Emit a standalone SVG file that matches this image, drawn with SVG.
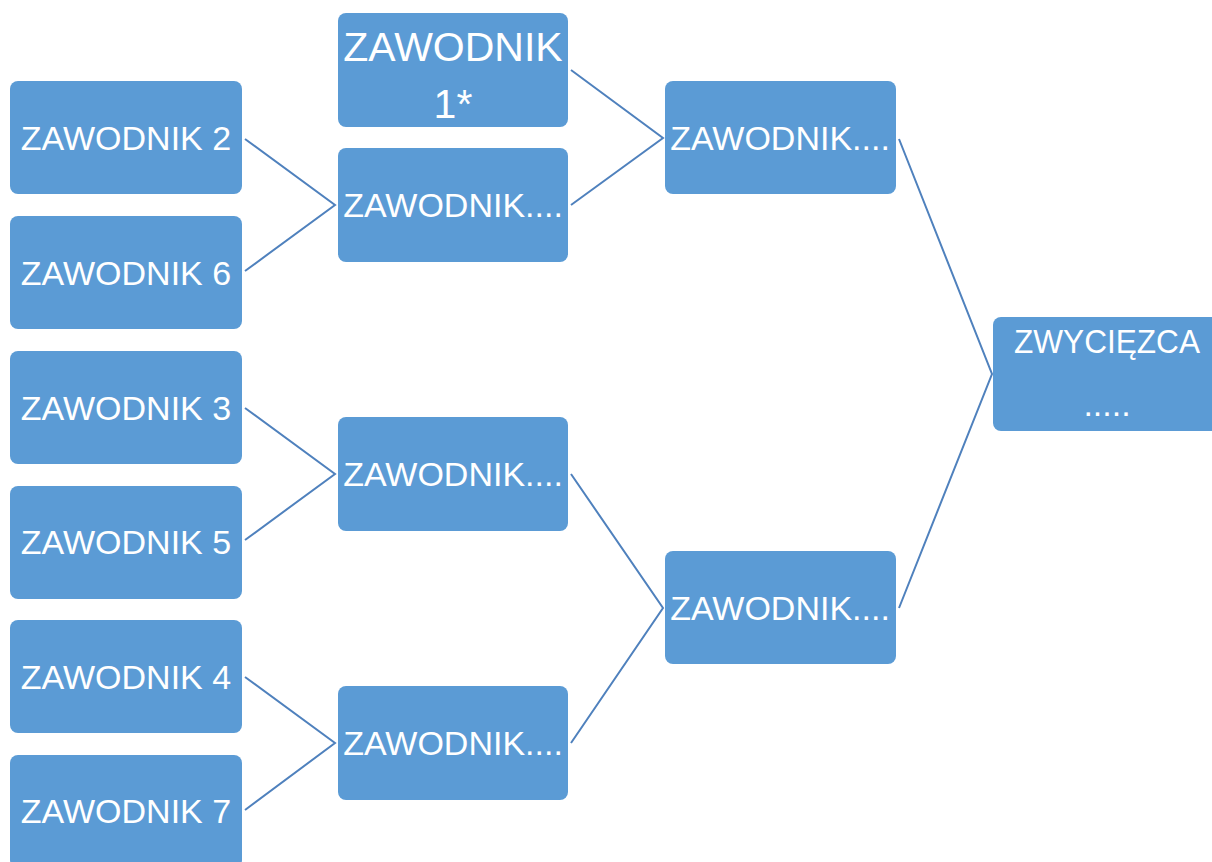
<svg xmlns="http://www.w3.org/2000/svg" width="1212" height="862" viewBox="0 0 1212 862">
<style>
.box{fill:#5b9bd5;}
.t{fill:#ffffff;font-family:"Liberation Sans",Arial,sans-serif;font-size:34px;text-anchor:middle;}
.big{font-size:41px;}
.c{stroke:#4f81bd;stroke-width:2;fill:none;}
</style>
<rect width="1212" height="862" fill="#ffffff"/>
<g id="connectors">
<path class="c" d="M245,139 L335,205 L245,271"/>
<path class="c" d="M245,408 L335,474 L245,540"/>
<path class="c" d="M245,677 L335,743 L245,810"/>
<path class="c" d="M571,70 L663,138 L571,205"/>
<path class="c" d="M571,474 L663,608 L571,743"/>
<path class="c" d="M899,139 L992,374 L899,608"/>
</g>
<g id="z2"><rect class="box" x="10" y="81" width="232" height="113" rx="8"/><text class="t" x="126" y="150">ZAWODNIK 2</text></g>
<g id="z6"><rect class="box" x="10" y="216" width="232" height="113" rx="8"/><text class="t" x="126" y="285">ZAWODNIK 6</text></g>
<g id="z3"><rect class="box" x="10" y="351" width="232" height="113" rx="8"/><text class="t" x="126" y="420">ZAWODNIK 3</text></g>
<g id="z5"><rect class="box" x="10" y="486" width="232" height="113" rx="8"/><text class="t" x="126" y="554">ZAWODNIK 5</text></g>
<g id="z4"><rect class="box" x="10" y="620" width="232" height="113" rx="8"/><text class="t" x="126" y="689">ZAWODNIK 4</text></g>
<g id="z7"><rect class="box" x="10" y="755" width="232" height="113" rx="8"/><text class="t" x="126" y="823">ZAWODNIK 7</text></g>
<g id="z1"><rect class="box" x="338" y="13" width="230" height="114" rx="8"/><text class="t big" x="453" y="61">ZAWODNIK</text><text class="t big" x="453" y="118">1*</text></g>
<g id="m1"><rect class="box" x="338" y="148" width="230" height="114" rx="8"/><text class="t" x="453" y="217">ZAWODNIK....</text></g>
<g id="m2"><rect class="box" x="338" y="417" width="230" height="114" rx="8"/><text class="t" x="453" y="486">ZAWODNIK....</text></g>
<g id="m3"><rect class="box" x="338" y="686" width="230" height="114" rx="8"/><text class="t" x="453" y="755">ZAWODNIK....</text></g>
<g id="s1"><rect class="box" x="665" y="81" width="231" height="113" rx="8"/><text class="t" x="780" y="150">ZAWODNIK....</text></g>
<g id="s2"><rect class="box" x="665" y="551" width="231" height="113" rx="8"/><text class="t" x="780" y="620">ZAWODNIK....</text></g>
<g id="winner"><rect class="box" x="993" y="317" width="232" height="114" rx="8"/><text class="t" x="1107" y="353" textLength="186" lengthAdjust="spacingAndGlyphs">ZWYCIĘZCA</text><text class="t" x="1107" y="416">.....</text></g>
</svg>
